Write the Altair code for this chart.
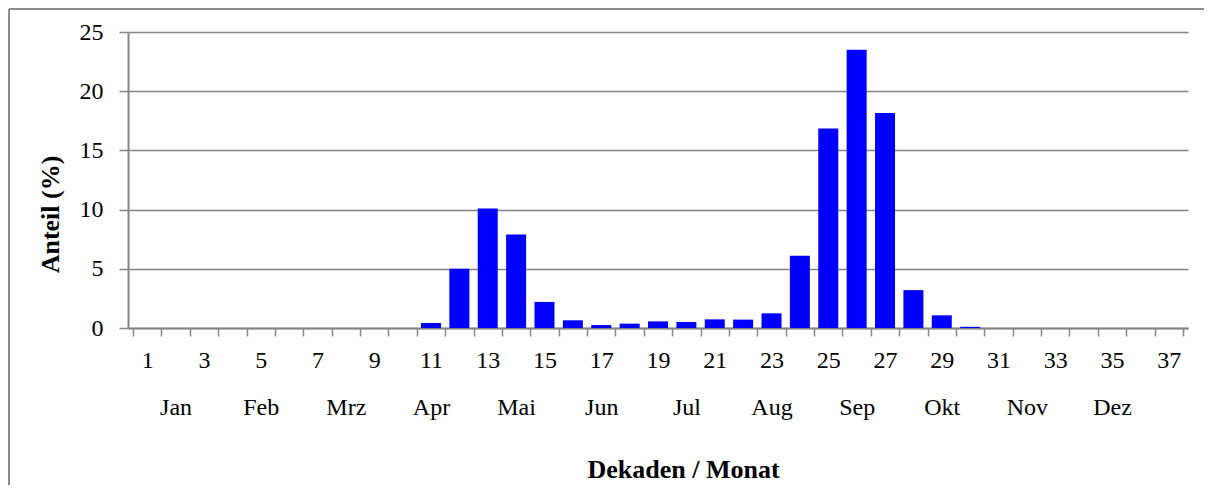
import altair as alt
import pandas as pd

# Data
decades = list(range(1, 37))
anteil = [0, 0, 0, 0, 0, 0, 0, 0, 0, 0,
          0.42, 5.0, 10.1, 7.9, 2.2, 0.65, 0.25, 0.37, 0.56, 0.51,
          0.73, 0.71, 1.24, 6.1, 16.85, 23.5, 18.15, 3.2, 1.07, 0.1,
          0, 0, 0, 0, 0, 0]
decade_labels = list(range(1, 38, 2))
tick_bounds = [i + 0.5 for i in range(0, 38)]
month_names = ["Jan", "Feb", "Mrz", "Apr", "Mai", "Jun",
               "Jul", "Aug", "Sep", "Okt", "Nov", "Dez"]
month_pos = [2 + 3 * i for i in range(12)]
y_ticks = [0, 5, 10, 15, 20, 25]

df = pd.DataFrame({"Dekade": decades, "Anteil": anteil})

FONT = "Liberation Serif, Times New Roman, serif"
GRAY = "#858585"

xscale = alt.Scale(domain=[0.5, 37.5], nice=False, zero=False)
yscale = alt.Scale(domain=[0, 25], nice=False)

bars = alt.Chart(df).mark_bar(color="#0000FF", size=20).encode(
    x=alt.X("Dekade:Q", scale=xscale,
            axis=alt.Axis(orient="bottom", values=tick_bounds, labels=False, tickSize=8,
                          tickColor=GRAY, tickWidth=1.5, domainColor=GRAY,
                          domainWidth=2, grid=False, title=None)),
    y=alt.Y("Anteil:Q", scale=yscale,
            axis=alt.Axis(values=y_ticks, grid=True, gridColor=GRAY, gridWidth=1.7,
                          domainColor=GRAY, domainWidth=2, tickColor=GRAY,
                          tickWidth=1.5, tickSize=9,
                          labelFont=FONT, labelFontSize=24, labelColor="black",
                          labelPadding=16,
                          title="Anteil (%)", titleFont=FONT, titleFontSize=26,
                          titleFontWeight="bold", titleColor="black",
                          titleAngle=270, titleX=-78, titleY=182,
                          titleAlign="center", titleBaseline="middle")),
)

decade_axis = alt.Chart(df).mark_point(opacity=0).encode(
    x=alt.X("Dekade:Q", scale=xscale,
            axis=alt.Axis(orient="bottom", values=decade_labels, ticks=False, domain=False,
                          grid=False, labelFont=FONT, labelFontSize=24,
                          labelColor="black", labelPadding=20, title=None,
                          labelOverlap=False)),
)

month_expr = "[" + ",".join("'%s'" % m for m in month_names) + "][floor((datum.value - 2) / 3)]"
month_axis = alt.Chart(df).mark_point(opacity=0).encode(
    x=alt.X("Dekade:Q", scale=xscale,
            axis=alt.Axis(orient="bottom", values=month_pos, labelExpr=month_expr, ticks=False,
                          domain=False, grid=False, labelFont=FONT,
                          labelFontSize=24, labelColor="black", labelPadding=67,
                          labelOverlap=False,
                          title="Dekaden / Monat", titleFont=FONT, titleFontSize=26,
                          titleFontWeight="bold", titleColor="black",
                          titleX=555, titleY=141, titleAlign="center",
                          titleBaseline="middle")),
)

frame_top = alt.Chart(df).mark_rule(color="#8c8c8c", strokeWidth=1.5).encode(
    x=alt.value(-119), x2=alt.value(1076), y=alt.value(-23))
frame_left = alt.Chart(df).mark_rule(color="#8c8c8c", strokeWidth=1.5).encode(
    x=alt.value(-119), y=alt.value(-23), y2=alt.value(453))

chart = alt.layer(bars, decade_axis, month_axis, frame_top, frame_left).resolve_axis(
    x="independent"
).properties(
    width=1060, height=296,
    autosize=alt.AutoSizeParams(type="none"),
    padding={"left": 120, "top": 24, "right": 16, "bottom": 157},
    background="white",
).configure_view(stroke=None)

chart.save("out.html", embed_options={"renderer": "svg", "actions": False})
